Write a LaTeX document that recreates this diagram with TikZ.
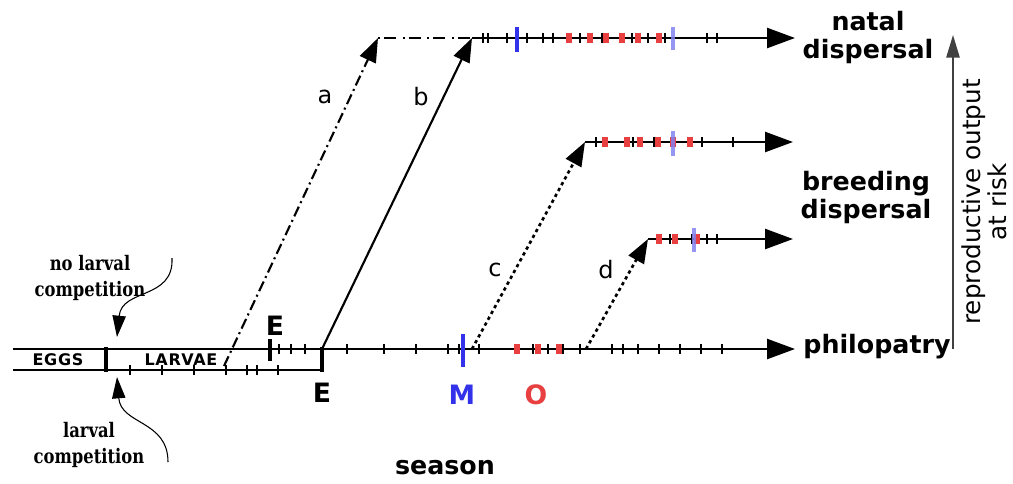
\documentclass[tikz,border=0pt]{standalone}
\usepackage{fontspec}
\setmainfont{DejaVu Sans}
\newfontfamily\serifbold{DejaVu Serif}[FakeStretch=0.82]
\usetikzlibrary{arrows.meta}
\definecolor{mred}{RGB}{232,64,64}
\definecolor{mblue}{RGB}{50,50,235}
\definecolor{lblue}{RGB}{130,130,240}
\begin{document}
\begin{tikzpicture}[x=0.75pt,y=-0.75pt,
  axis/.style={line width=1.9pt},
  bigtip/.style={-{Triangle[length=21pt,width=15pt]}},
  slopetip/.style={-{Triangle[length=18pt,width=13pt]}},
  curvy/.style={line width=0.8pt,-{Triangle[length=16pt,width=10pt]}},
  tickmark/.style={line width=0.9pt},
  redmark/.style={line width=4pt,mred},
  bluemark/.style={line width=3.5pt,lblue,opacity=0.85},
  thickbar/.style={line width=3pt},
  stage/.style={font=\bfseries\fontsize{12}{14}\selectfont\addfontfeature{LetterSpace=4}},
  outcome/.style={font=\bfseries\fontsize{19}{21}\selectfont,align=center},
  lettr/.style={font=\fontsize{18}{20}\selectfont},
  bigletter/.style={font=\bfseries\fontsize{20}{22}\selectfont},
  note/.style={font=\serifbold\bfseries\fontsize{15}{19}\selectfont,align=center}
]
\useasboundingbox (0,0) rectangle (1013,483);

% coordinates
\coordinate (L0) at (13,349);
\coordinate (Pend) at (795,349);
\coordinate (B0) at (13,370);
\coordinate (BR) at (322,370);
\coordinate (ER) at (322,349);
\coordinate (aS) at (224,366);
\coordinate (aT) at (378,38);
\coordinate (bT) at (472,38);
\coordinate (Nend) at (795,38);
\coordinate (cS) at (472,349);
\coordinate (cT) at (585,142);
\coordinate (Bend) at (793,142);
\coordinate (dS) at (586,349);
\coordinate (dT) at (648,239);
\coordinate (Dend) at (793,239);
\coordinate (rB) at (953,349);
\coordinate (rT) at (953,35);

% main lines
\draw[axis,bigtip] (L0) -- (Pend);
\draw[axis] (B0) -- (BR);
\draw[thickbar] (322,347) -- (322,372);
\draw[thickbar] (106,347) -- (106,372);
\draw[thickbar] (270,339) -- (270,361);

% ticks on larval (lower) line
\foreach \x in {130,162,194,226,247,257,278} \draw[tickmark] (\x,365) -- (\x,375);
% ticks on main line
\foreach \x in {279,291,305,347,384,416,448,459,479,533,548,563,580,612,623,638,659,680,701,722}
  \draw[tickmark] (\x,344) -- (\x,354);
\foreach \x in {517,538,559} \draw[redmark] (\x,344) -- (\x,354);
\draw[line width=3pt,mblue] (463,334) -- (463,367);

% pathways
\draw[line width=1.6pt,slopetip,dash pattern=on 8pt off 3pt on 1.5pt off 3pt] (aS) -- (aT);
\draw[line width=1.6pt,dash pattern=on 1.5pt off 3pt on 9pt off 5pt] (aT) -- (bT);
\draw[line width=1.6pt,slopetip] (ER) -- (bT);
\draw[line width=2pt,slopetip,dash pattern=on 2.5pt off 2.5pt] (cS) -- (cT);
\draw[line width=2pt,slopetip,dash pattern=on 2.5pt off 2.5pt] (dS) -- (dT);

% natal dispersal line
\draw[axis,bigtip] (bT) -- (Nend);
\foreach \x in {483,488,507,527,543,553,580,602,632,648,665,707,717}
  \draw[tickmark] (\x,33) -- (\x,43);
\foreach \x in {569,590,606,622,638,659} \draw[redmark] (\x,33) -- (\x,43);
\draw[line width=3pt,mblue] (517,27) -- (517,52);
\draw[bluemark] (673,27) -- (673,50);

% breeding dispersal upper line
\draw[axis,bigtip] (cT) -- (Bend);
\foreach \x in {596,633,654,702,733} \draw[tickmark] (\x,137) -- (\x,147);
\foreach \x in {605,627,640,658,673,690} \draw[redmark] (\x,137) -- (\x,147);
\draw[bluemark] (673,131) -- (673,156);

% breeding dispersal lower line
\draw[axis,bigtip] (dT) -- (Dend);
\foreach \x in {670,692,707,717} \draw[tickmark] (\x,234) -- (\x,244);
\foreach \x in {659,675,697} \draw[redmark] (\x,234) -- (\x,244);
\draw[bluemark] (694,228) -- (694,252);

% reproductive output axis
\draw[line width=1.2pt,black!75,-{Triangle[length=17pt,width=10pt]}] (rB) -- (rT);

% labels
\node[stage] (eggs) at (58,360) {EGGS};
\node[stage] (larvae) at (181,360) {LARVAE};
\node[lettr] (la) at (325,97) {a};
\node[lettr] (lb) at (421,97) {b};
\node[lettr] (lc) at (495,270) {c};
\node[lettr] (ld) at (606,270) {d};
\node[bigletter] (E1) at (275,326) {E};
\node[bigletter] (E2) at (322,393) {E};
\node[bigletter,text=mblue] (M) at (462,395) {M};
\node[bigletter,text=mred] (O) at (536,395) {O};
\node[outcome] (season) at (445,468) {season};
\node[outcome] (natal) at (868,38) {natal\\dispersal};
\node[outcome] (breed) at (866,198) {breeding\\dispersal};
\node[outcome] (philo) at (877,347) {philopatry};
\node[font=\fontsize{18.5}{19.5}\selectfont,align=center,rotate=90] (repro) at (984,202) {reproductive output\\at risk};
\node[note] (nolc) at (90,278) {no larval\\competition};
\node[note] (lc2) at (89,445) {larval\\competition};

% curved arrows
\coordinate (n1) at (172,258);
\coordinate (n2) at (117,337);
\coordinate (m1) at (168,462);
\coordinate (m2) at (117,377);
\draw[curvy] (n1) .. controls (174,300) and (122,288) .. (n2);
\draw[curvy] (m1) .. controls (168,420) and (121,425) .. (m2);
\end{tikzpicture}
\end{document}
